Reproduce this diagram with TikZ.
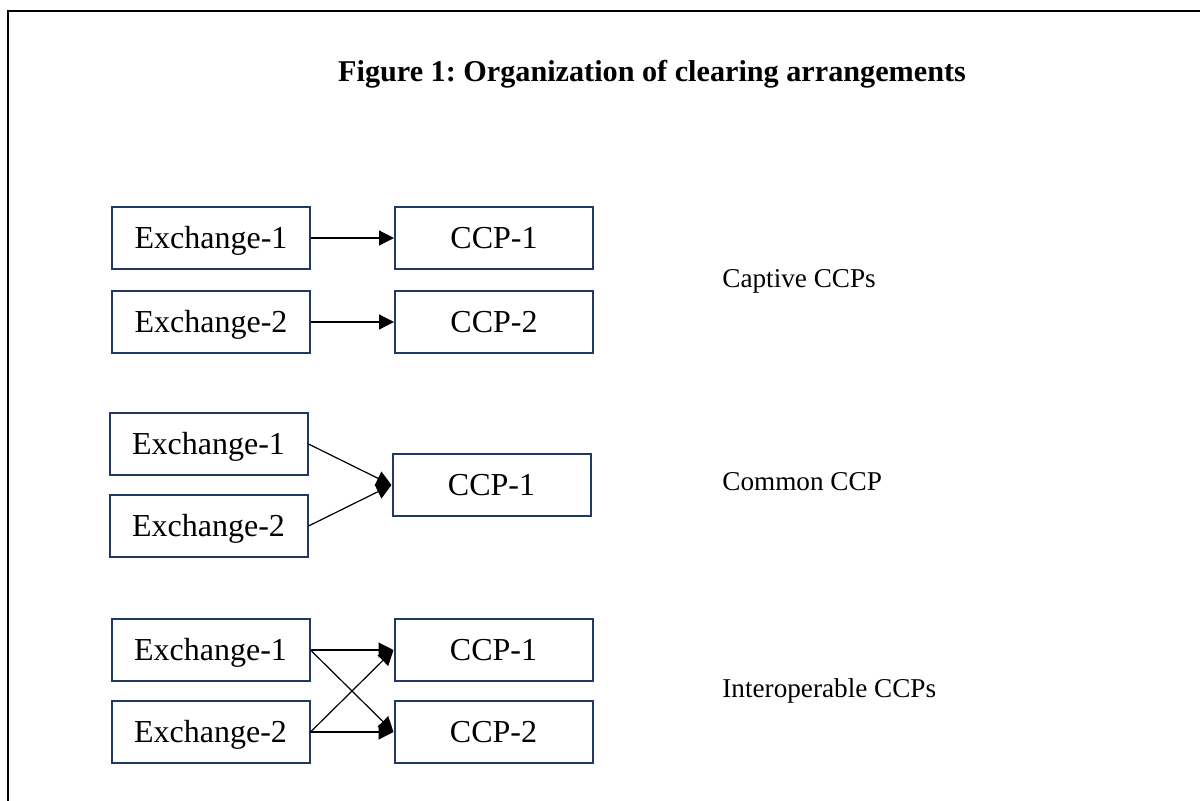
\documentclass[tikz,border=0pt]{standalone}
\usepackage{fontspec}
\setmainfont{Liberation Serif}
\usepackage{xcolor}
\definecolor{clNavy}{RGB}{32,56,100}
\usetikzlibrary{positioning,arrows.meta,calc}

\begin{document}
\frenchspacing
\begin{tikzpicture}[x=0.5pt,y=-0.5pt,node distance=10pt and 41.5pt,
  b/.style={draw=clNavy,line width=1pt,minimum width=99pt,minimum height=31pt,
    inner sep=0pt,text height=10.5pt,text depth=0pt,font=\fontsize{16}{19}\selectfont},
  lbl/.style={anchor=west,inner sep=0pt,font=\fontsize{13.6}{17}\selectfont},
  a/.style={-{Triangle[length=7.5pt,width=7.5pt]},line width=0.6pt}]
  \useasboundingbox (0,0) rectangle (1200,800);
  \clip (0,0) rectangle (1200,800);
  \draw[line width=1pt] (8,11) rectangle (1215,815);
  \node[font=\fontsize{15.1}{19}\selectfont\bfseries] (title) at (652,74)
    {Figure 1: Organization of clearing arrangements};
  % captive
  \node[b] (e11) at (211,238) {Exchange-1};
  \node[b,below=of e11] (e12) {Exchange-2};
  \node[b,right=of e11] (c11) {CCP-1};
  \node[b,right=of e12] (c12) {CCP-2};
  \node[lbl] (l1) at (722,281) {Captive CCPs};
  \draw[a](e11)--(c11); \draw[a](e12)--(c12);
  % common
  \node[b] (e21) at (208.5,444) {Exchange-1};
  \node[b,below=9pt of e21] (e22) {Exchange-2};
  \node[b,anchor=west] (c21) at ([xshift=41.5pt]$(e21.east)!.5!(e22.east)$) {CCP-1};
  \node[lbl] (l2) at (722,482) {Common CCP};
  \draw[a](e21.east)--(c21.west); \draw[a](e22.east)--(c21.west);
  % interoperable
  \node[b] (e31) at (210.5,650) {Exchange-1};
  \node[b,below=9pt of e31] (e32) {Exchange-2};
  \node[b,right=of e31] (c31) {CCP-1};
  \node[b,right=of e32] (c32) {CCP-2};
  \node[lbl] (l3) at (722,691) {Interoperable CCPs};
  \draw[a](e31.east)--(c31.west); \draw[a](e31.east)--(c32.west);
  \draw[a](e32.east)--(c31.west); \draw[a](e32.east)--(c32.west);
\end{tikzpicture}
\end{document}
